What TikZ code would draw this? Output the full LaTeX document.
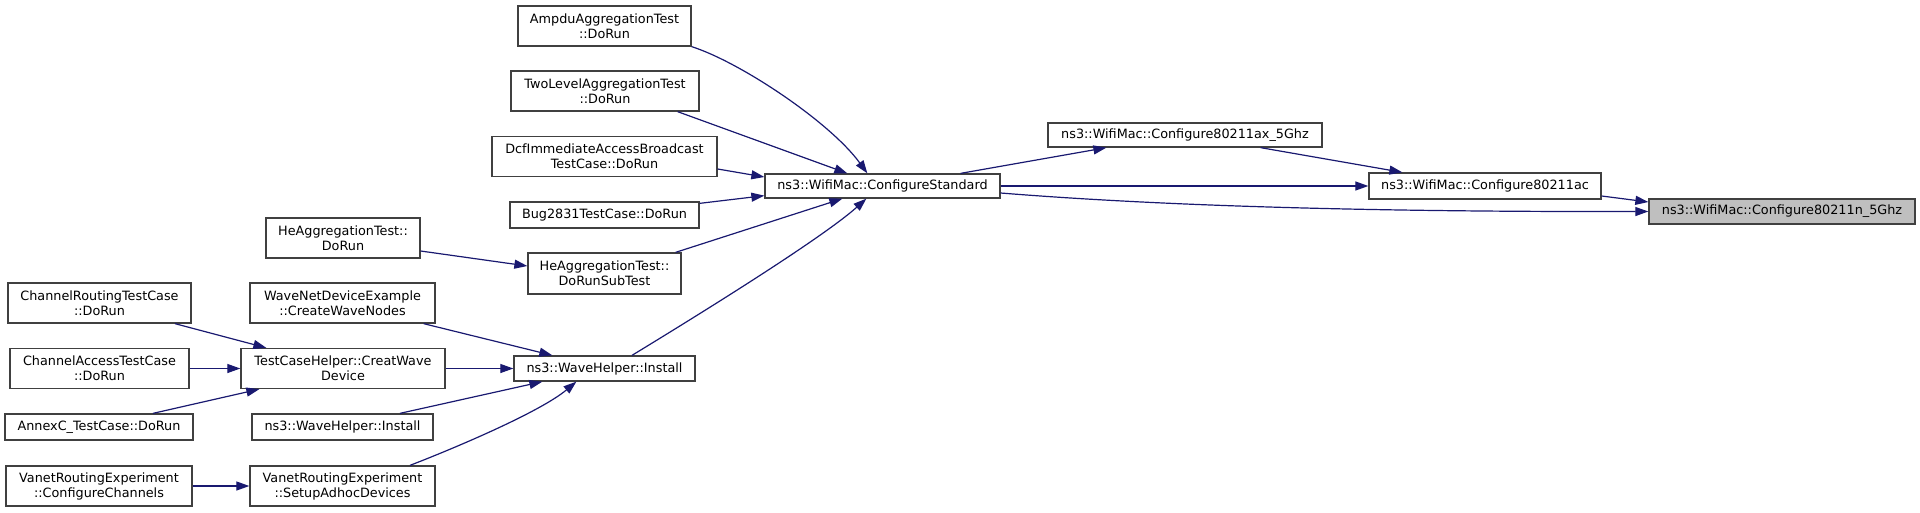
\documentclass[tikz,border=0pt]{standalone}
\usepackage{fontspec}
\setmainfont{DejaVu Sans}
\usetikzlibrary{arrows.meta,calc}
\definecolor{grey25}{HTML}{404040}
\definecolor{grey75}{HTML}{BFBFBF}
\definecolor{navy}{HTML}{191970}
\begin{document}
\begin{tikzpicture}[x=1pt,y=-1pt,
  box/.style={draw=grey25, fill=white, line width=1.3pt, inner sep=0pt, align=center,
    font=\fontsize{12.8}{15}\selectfont},
  rootbox/.style={box, fill=grey75},
  edge/.style={draw=navy, line width=1.2pt, -{Triangle[length=13pt,width=9pt]}}]
\useasboundingbox (0,0) rectangle (1920,512);

% nodes
\node[box, minimum width=173pt, minimum height=40pt] (ampdu) at (604.5,26) {AmpduAggregationTest\\::DoRun};
\node[box, minimum width=188pt, minimum height=40pt] (twolevel) at (605,91) {TwoLevelAggregationTest\\::DoRun};
\node[box, minimum width=225pt, minimum height=40pt] (dcf) at (604.5,156.5) {DcfImmediateAccessBroadcast\\TestCase::DoRun};
\node[box, minimum width=189pt, minimum height=26pt] (bug) at (604.5,215) {Bug2831TestCase::DoRun};
\node[box, minimum width=154pt, minimum height=40pt] (hedorun) at (343,238) {HeAggregationTest::\\DoRun};
\node[box, minimum width=153pt, minimum height=41pt] (hesub) at (604.5,273.5) {HeAggregationTest::\\DoRunSubTest};
\node[box, minimum width=183pt, minimum height=40pt] (chrouting) at (99.5,303) {ChannelRoutingTestCase\\::DoRun};
\node[box, minimum width=185pt, minimum height=40pt] (wavenet) at (342.5,303) {WaveNetDeviceExample\\::CreateWaveNodes};
\node[box, minimum width=179pt, minimum height=40pt] (chaccess) at (99.5,368.5) {ChannelAccessTestCase\\::DoRun};
\node[box, minimum width=204pt, minimum height=40pt] (tch) at (343,368.5) {TestCaseHelper::CreatWave\\Device};
\node[box, minimum width=181pt, minimum height=25pt] (whi) at (604.5,368.5) {ns3::WaveHelper::Install};
\node[box, minimum width=188pt, minimum height=26pt] (annex) at (99,427) {AnnexC\_TestCase::DoRun};
\node[box, minimum width=181pt, minimum height=26pt] (whitwo) at (342.5,427) {ns3::WaveHelper::Install};
\node[box, minimum width=186pt, minimum height=40pt] (vanetcc) at (99,486) {VanetRoutingExperiment\\::ConfigureChannels};
\node[box, minimum width=185pt, minimum height=40pt] (vanetsa) at (342.5,486) {VanetRoutingExperiment\\::SetupAdhocDevices};
\node[box, minimum width=235pt, minimum height=24pt] (cs) at (882.5,186) {ns3::WifiMac::ConfigureStandard};
\node[box, minimum width=274pt, minimum height=24pt] (ax) at (1185,135) {ns3::WifiMac::Configure80211ax\_5Ghz};
\node[box, minimum width=232pt, minimum height=26pt] (ac) at (1485,186) {ns3::WifiMac::Configure80211ac};
\node[rootbox, minimum width=266pt, minimum height=25pt] (n5) at (1782,211.5) {ns3::WifiMac::Configure80211n\_5Ghz};

% edges
\draw[edge] (ampdu.south east) .. controls (740,62) and (830,122) .. ($(cs.north west)+(103,0)$);
\draw[edge] ($(twolevel.south east)+(-22,0)$) -- ($(cs.north west)+(83,0)$);
\draw[edge] ($(dcf.east)+(0,12.5)$) -- ($(cs.west)+(0,-9)$);
\draw[edge] ($(bug.north east)+(0,2)$) -- ($(cs.south west)+(0,-3)$);
\draw[edge] ($(hesub.north east)+(-6,0)$) -- ($(cs.south west)+(78,0)$);
\draw[edge] ($(whi.north)+(27.5,0)$) .. controls (690,320) and (820,240) .. ($(cs.south west)+(102,0)$);
\draw[edge] ($(hedorun.east)+(0,13)$) -- ($(hesub.west)+(0,-7.5)$);
\draw[edge] ($(chrouting.south)+(75.5,0)$) -- ($(tch.north west)+(26,0)$);
\draw[edge] (chaccess.east) -- (tch.west);
\draw[edge] ($(annex.north)+(54,0)$) -- ($(tch.south west)+(19,0)$);
\draw[edge] ($(wavenet.south east)+(-12,0)$) -- ($(whi.north west)+(39,0)$);
\draw[edge] (tch.east) -- (whi.west);
\draw[edge] ($(whitwo.north)+(57.5,0)$) -- ($(whi.south west)+(29,0)$);
\draw[edge] ($(vanetsa.north)+(67.5,0)$) .. controls (455,448) and (540,412) .. ($(whi.south west)+(63,0)$);
\draw[edge] (vanetcc.east) -- (vanetsa.west);
\draw[edge] ($(cs.north east)+(-40,0)$) -- ($(ax.south west)+(59,0)$);
\draw[edge] ($(ax.south east)+(-62,0)$) -- ($(ac.north west)+(34,0)$);
\draw[edge] (cs.east) -- (ac.west);
\draw[edge] ($(cs.east)+(0,7)$) .. controls (1150,205) and (1350,212) .. (n5.west);
\draw[edge] ($(ac.east)+(0,10)$) -- ($(n5.west)+(0,-9.5)$);
\end{tikzpicture}
\end{document}
